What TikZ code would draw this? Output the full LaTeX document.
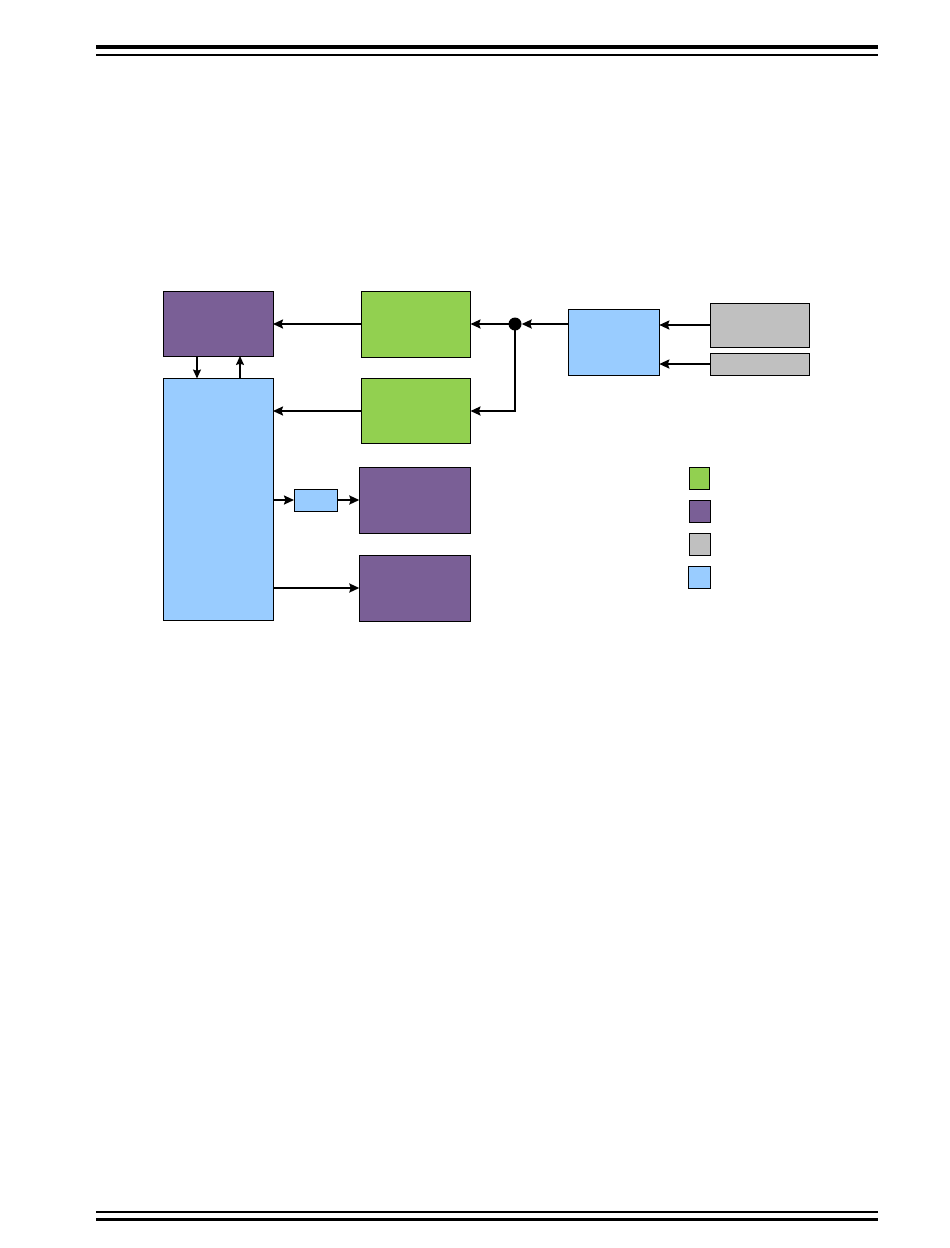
\documentclass[tikz,border=0pt]{standalone}
\usetikzlibrary{arrows.meta,calc}
\definecolor{cpurple}{RGB}{122,95,150}
\definecolor{cgreen}{RGB}{146,208,80}
\definecolor{cgray}{RGB}{192,192,192}
\definecolor{cblue}{RGB}{153,204,255}
\begin{document}
\begin{tikzpicture}[x=1pt,y=1pt,
  blk/.style={draw=black,line width=0.9pt,inner sep=0pt,outer sep=0pt,anchor=north west},
  arr/.style={line width=2pt,-{Stealth[length=10pt,width=9pt,inset=1.5pt]}},
  sarr/.style={line width=1.3pt,-{Stealth[length=9pt,width=8pt,inset=1.3pt]}},
  jdot/.style={circle,fill=black,inner sep=0pt,minimum size=13pt}]
\useasboundingbox (0,0) rectangle (950,-1248);
% header and footer rules
\fill (96,-44.7) rectangle (878,-48.7);
\fill (96,-53.7) rectangle (878,-55.5);
\fill (96,-1210.8) rectangle (878,-1212.8);
\fill (96,-1217.5) rectangle (878,-1221);
% blocks
\node[blk,fill=cpurple,minimum width=110pt,minimum height=65pt] (p1) at (163,-291) {};
\node[blk,fill=cblue,minimum width=110pt,minimum height=242pt] (b1) at (163,-378.5) {};
\node[blk,fill=cgreen,minimum width=109.5pt,minimum height=66pt] (g1) at (361,-291) {};
\node[blk,fill=cgreen,minimum width=109.5pt,minimum height=65pt] (g2) at (361,-378.5) {};
\node[blk,fill=cblue,minimum width=91pt,minimum height=66pt] (bx) at (568.3,-309) {};
\node[blk,fill=cgray,minimum width=99pt,minimum height=44pt] (gr1) at (710,-303) {};
\node[blk,fill=cgray,minimum width=99pt,minimum height=22pt] (gr2) at (710,-353) {};
\node[blk,fill=cblue,minimum width=43.5pt,minimum height=22pt] (sb) at (294,-489) {};
\node[blk,fill=cpurple,minimum width=111.3pt,minimum height=66pt] (p2) at (359.3,-467) {};
\node[blk,fill=cpurple,minimum width=111.3pt,minimum height=66pt] (p3) at (359.3,-555) {};
\node[jdot] (j) at (515,-324) {};
% legend
\node[blk,fill=cgreen,minimum width=20.5pt,minimum height=22pt] (lg) at (689.3,-467.3) {};
\node[blk,fill=cpurple,minimum width=21.4pt,minimum height=22pt] (lp) at (689.3,-500.3) {};
\node[blk,fill=cgray,minimum width=21.4pt,minimum height=22pt] (lgr) at (689.3,-533.3) {};
\node[blk,fill=cblue,minimum width=22.4pt,minimum height=22pt] (lb) at (688.3,-566.3) {};
% connectors
\draw[arr] (g1.west) -- (g1.west -| p1.east);
\draw[arr] (g2.west) -- (g2.west -| b1.east);
\draw[sarr] ([xshift=34pt]p1.south west) -- ([xshift=34pt]p1.south west |- b1.north);
\draw[sarr] ([xshift=77pt]b1.north west) -- ([xshift=77pt]b1.north west |- p1.south);
\draw[arr] (j -| bx.west) -- (j.east);
\draw[arr] (j.center) -- (j -| g1.east);
\draw[arr] (j.center) |- (g2.east);
\draw[arr] (gr1.west) -- (gr1.west -| bx.east);
\draw[arr] (gr2.west) -- (gr2.west -| bx.east);
\draw[arr] (sb.west -| b1.east) -- (sb.west);
\draw[arr] (sb.east) -- (sb.east -| p2.west);
\draw[arr] (p3.west -| b1.east) -- (p3.west);
\end{tikzpicture}
\end{document}
